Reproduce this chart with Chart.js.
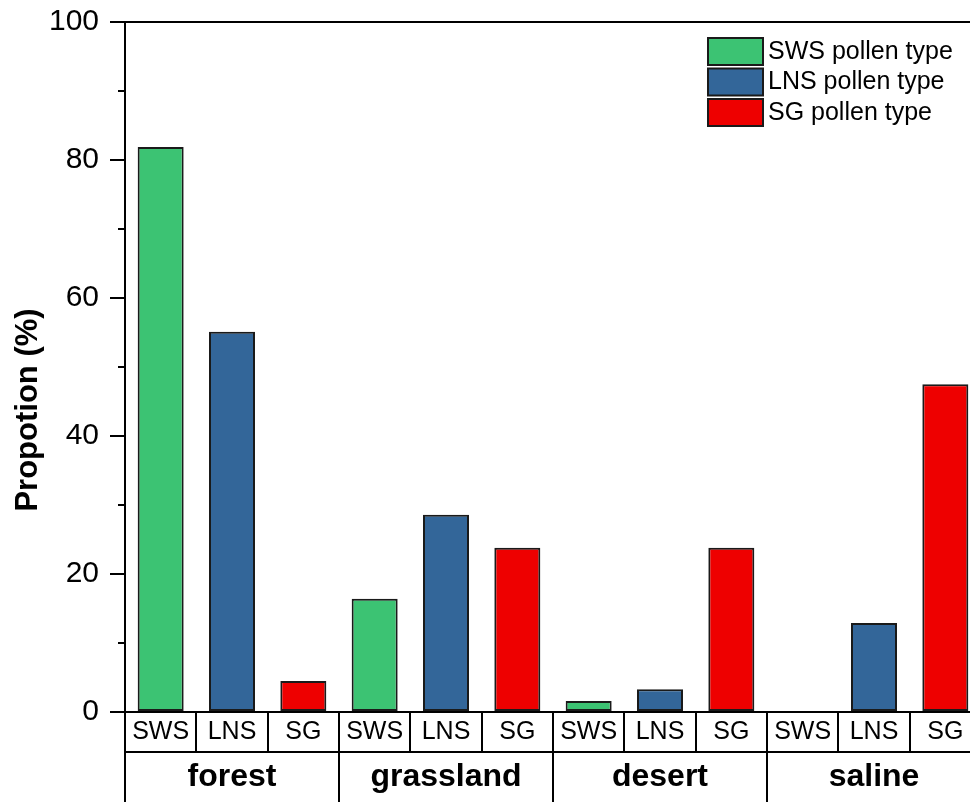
<!DOCTYPE html>
<html>
<head>
<meta charset="utf-8">
<script src="https://cdn.jsdelivr.net/npm/chart.js@4"></script>
<style>
  html, body { margin:0; padding:0; background:#fff; overflow:hidden; }
  #wrap { width:990px; height:802px; position:relative; }
</style>
</head>
<body>
<div id="wrap"><canvas id="grafico"></canvas></div>
<script>
var categories = ["SWS", "LNS", "SG", "SWS", "LNS", "SG", "SWS", "LNS", "SG", "SWS", "LNS", "SG"];
var groups = ["forest", "grassland", "desert", "saline"];
var swsValues = [81.9, 16.4, 1.6, 0];
var lnsValues = [55.1, 28.6, 3.3, 12.9];
var sgValues = [4.5, 23.8, 23.8, 47.5];
var yTicks = [0, 20, 40, 60, 80, 100];

var colors = ["#3CC373", "#336699", "#EE0000"];
var seriesNames = ["SWS pollen type", "LNS pollen type", "SG pollen type"];

// one dataset per pollen type, only filled at its own slot of every group
function spread(values, slot) {
  var out = [];
  for (var i = 0; i < categories.length; i++) out.push(null);
  values.forEach(function (v, g) { out[g * 3 + slot] = v; });
  return out;
}

Chart.defaults.font.family = "'Liberation Sans', Arial, sans-serif";
Chart.defaults.color = "#000";

var extras = {
  id: "extras",
  afterDraw: function (chart) {
    var ctx = chart.ctx;
    var area = chart.chartArea;
    var y = chart.scales.y;
    ctx.save();
    ctx.strokeStyle = "#000";
    ctx.lineWidth = 2;
    // top frame line
    ctx.beginPath();
    ctx.moveTo(area.left, area.top);
    ctx.lineTo(area.right, area.top);
    ctx.stroke();
    // minor ticks
    for (var v = 10; v < 100; v += 20) {
      var py = Math.round(y.getPixelForValue(v));
      ctx.beginPath();
      ctx.moveTo(area.left - 7, py);
      ctx.lineTo(area.left, py);
      ctx.stroke();
    }
    // legend
    ctx.font = "25px 'Liberation Sans', Arial, sans-serif";
    ctx.textBaseline = "middle";
    ctx.textAlign = "left";
    chart.data.datasets.forEach(function (ds, i) {
      var bx = 708, by = 38 + i * 30.5;
      ctx.fillStyle = ds.backgroundColor;
      ctx.fillRect(bx, by, 55, 27);
      ctx.lineWidth = 2;
      ctx.strokeStyle = "#1a1a1a";
      ctx.strokeRect(bx, by, 55, 27);
      ctx.fillStyle = "#000";
      ctx.fillText(ds.label, 768, by + 14);
    });
    // y title, centred on the whole axis line like the original
    ctx.translate(28, 410);
    ctx.rotate(-Math.PI / 2);
    ctx.font = "bold 31px 'Liberation Sans', Arial, sans-serif";
    ctx.textAlign = "center";
    ctx.fillText("Propotion (%)", 0, 0);
    ctx.restore();
  }
};

var ctx = document.getElementById("grafico").getContext("2d");
var myChart = new Chart(ctx, {
  type: "bar",
  data: {
    labels: categories,
    datasets: [swsValues, lnsValues, sgValues].map(function (vals, i) {
      return {
        label: seriesNames[i],
        data: spread(vals, i),
        backgroundColor: colors[i],
        borderColor: "#1a1a1a",
        borderWidth: 2,
        borderSkipped: false,
        grouped: false,
        barPercentage: 0.645,
        categoryPercentage: 1
      };
    })
  },
  options: {
    responsive: true,
    maintainAspectRatio: false,
    animation: false,
    layout: { padding: { left: 0, top: 22, right: 9, bottom: 0 } },
    plugins: { legend: { display: false }, tooltip: { enabled: false } },
    scales: {
      x: {
        type: "category",
        position: "bottom",
        offset: true,
        grid: { offset: true, drawOnChartArea: false, tickLength: 40, color: "#000", lineWidth: 2 },
        border: { display: true, color: "#000", width: 2 },
        ticks: { font: { size: 25 }, color: "#000", padding: -35, autoSkip: false, maxRotation: 0 },
        afterFit: function (s) { s.height = 40; }
      },
      x2: {
        type: "category",
        position: "bottom",
        labels: groups,
        offset: true,
        grid: { offset: true, drawOnChartArea: false, tickLength: 50, color: "#000", lineWidth: 2 },
        border: { display: true, color: "#000", width: 2 },
        ticks: { font: { size: 32, weight: "bold" }, color: "#000", padding: -44, autoSkip: false, maxRotation: 0 },
        afterFit: function (s) { s.height = 50; }
      },
      y: {
        min: 0,
        max: 100,
        afterBuildTicks: function (s) { s.ticks = yTicks.map(function (v) { return { value: v }; }); },
        grid: { drawOnChartArea: false, tickLength: 15, color: "#000", lineWidth: 2 },
        border: { display: true, color: "#000", width: 2 },
        ticks: { font: { size: 30 }, color: "#000", padding: 11 },
        afterFit: function (s) { s.width = 125; s.paddingTop = 0; }
      }
    }
  },
  plugins: [extras]
});
</script>
</body>
</html>
